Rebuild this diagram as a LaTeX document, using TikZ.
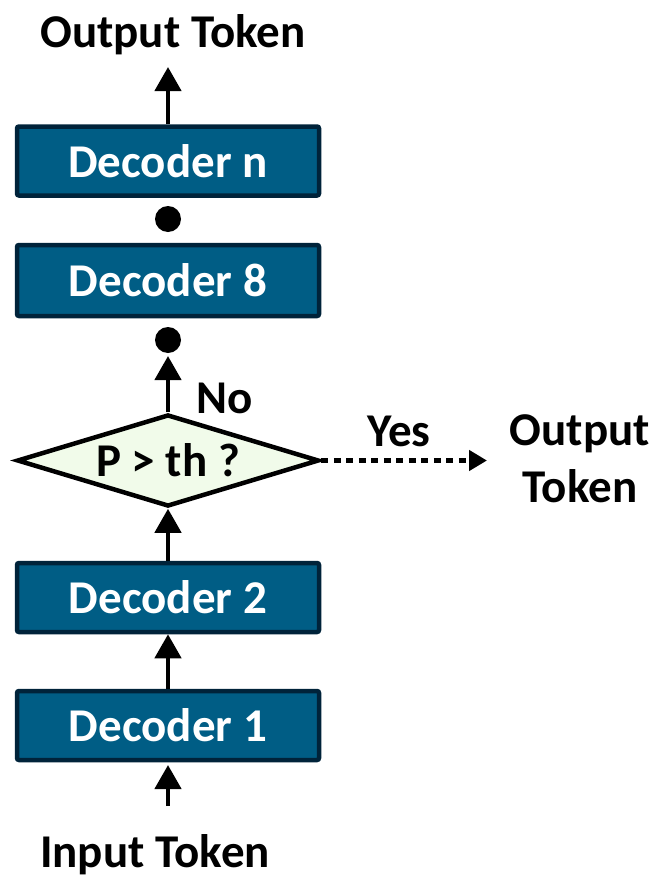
\documentclass[tikz,border=0pt]{standalone}
\usepackage{fontspec}
\setmainfont{Carlito}
\usetikzlibrary{arrows.meta,shapes.geometric}
\definecolor{decfill}{HTML}{005D85}
\definecolor{decedge}{HTML}{00233A}
\definecolor{diafill}{HTML}{F1FBEA}
\tikzset{
  decbox/.style={draw=decedge, fill=decfill, line width=4.5pt, rounded corners=2pt,
    minimum width=302pt, minimum height=69pt, inner sep=0pt,
    text=white, font=\fontsize{47}{54}\selectfont\bfseries},
  label/.style={inner sep=0pt, font=\fontsize{47}{54}\selectfont\bfseries},
  small/.style={inner sep=0pt, font=\fontsize{47}{57}\selectfont\bfseries},
  flow/.style={line width=4.5pt, -{Triangle[width=26pt,length=24pt]}},
  dotflow/.style={line width=5pt, dash pattern=on 7pt off 5.5pt, -{Triangle[width=20pt,length=18pt]}},
  dot/.style={circle, fill=black, minimum size=26pt, inner sep=0pt}
}
\begin{document}
\begin{tikzpicture}[x=1pt,y=-1pt]
  \useasboundingbox (0,0) rectangle (659,878);
  % decoder stack
  \node[decbox] (dn) at (168,161) {Decoder n};
  \node[dot] (dotA) at (168,219) {};
  \node[decbox, minimum height=71pt] (d8) at (168,280.5) {Decoder 8};
  \node[dot] (dotB) at (168,340) {};
  \node[draw, line width=4.5pt, fill=diafill, diamond, aspect=3.2, inner sep=0pt,
        minimum width=302pt, minimum height=92pt,
        font=\fontsize{47}{54}\selectfont\bfseries] (dia) at (168,460.5) {P > th ?};
  \node[decbox] (d2) at (168,597.5) {Decoder 2};
  \node[decbox] (d1) at (168,725.5) {Decoder 1};
  % labels
  \node[label] (out) at (173,35) {Output Token};
  \node[label] (in) at (155,855) {Input Token};
  \node[small] (no) at (225,398) {No};
  \node[small] (yes) at (399,431) {Yes};
  \node[small, align=center] (out2) at (580,459) {Output\\Token};
  \coordinate (inbase) at (168,806);
  \coordinate (nexttop) at (168,356);
  \coordinate (yesend) at (487,460.5);
  % connectors
  \draw[flow] (inbase) -- (d1.north |- 0,765);
  \draw[flow] (d1.north) -- (d2.south);
  \draw[flow] (d2.north) -- (dia.south);
  \draw[flow] (dia.north) -- (nexttop);
  \draw[flow] (dn.north) -- (168,67);
  \draw[dotflow] (dia.east) -- (yesend);
\end{tikzpicture}
\end{document}
